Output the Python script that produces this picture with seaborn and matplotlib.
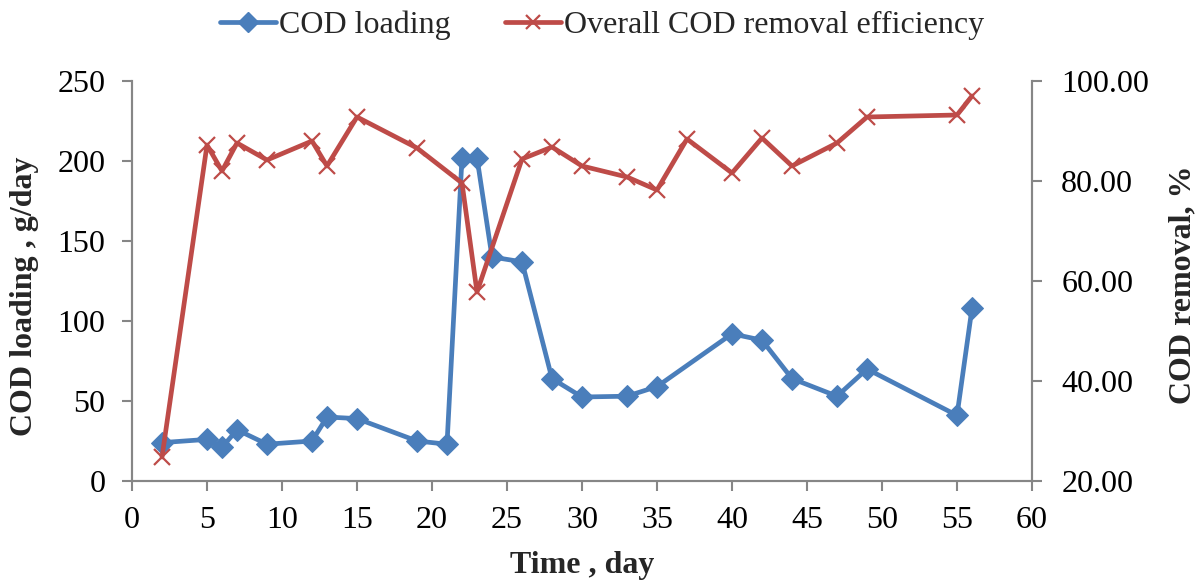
import matplotlib
matplotlib.use("Agg")
import matplotlib.pyplot as plt
from matplotlib.lines import Line2D
from matplotlib.ticker import FormatStrFormatter
import seaborn as sns
import pandas as pd

# COD loading (g/day) by day of operation
load_days = [2, 5, 6, 7, 9, 12, 13, 15, 19, 21, 22, 23, 24, 26, 28, 30, 33, 35, 40, 42, 44, 47, 49, 55, 56]
cod_loading = [24, 26, 21, 32, 23, 25, 40, 39, 25, 23, 202, 202, 140, 137, 64, 52.5, 53, 59, 92, 88, 64, 53, 70, 41, 108]

# Overall COD removal efficiency (%) by day of operation
eff_days = [2, 5, 6, 7, 9, 12, 13, 15, 19, 22, 23, 26, 28, 30, 33, 35, 37, 40, 42, 44, 47, 49, 55, 56]
cod_removal = [24.8, 87.2, 82.0, 87.6, 84.2, 88.0, 83.0, 92.8, 86.6, 79.6, 57.8, 84.4, 86.8, 83.0,
               80.8, 78.2, 88.4, 81.6, 88.6, 83.0, 87.6, 92.8, 93.2, 97.0]

load_df = pd.DataFrame({"day": load_days, "loading": cod_loading})
eff_df = pd.DataFrame({"day": eff_days, "removal": cod_removal})

sns.set_style("white")
plt.rcParams["font.family"] = ["Liberation Serif", "DejaVu Serif"]

BLUE = "#4A7EBB"
RED = "#BE4B48"
AXIS_GREY = "#868686"
FS = 23

fig = plt.figure(figsize=(11.98, 5.83), dpi=100)
ax = fig.add_axes([132 / 1198, 1 - 481 / 583, 900 / 1198, 400 / 583])
ax2 = ax.twinx()

sns.lineplot(data=load_df, x="day", y="loading", ax=ax, color=BLUE, lw=3.4,
             marker="D", markersize=11, markeredgecolor=BLUE, markerfacecolor=BLUE,
             legend=False, zorder=3)
sns.lineplot(data=eff_df, x="day", y="removal", ax=ax2, color=RED, lw=3.4,
             marker="x", markersize=11, markeredgewidth=1.6, markeredgecolor=RED,
             legend=False, zorder=3)

ax.set_xlim(0, 60)
ax.set_ylim(0, 250)
ax2.set_ylim(20, 100)
ax.set_xticks(range(0, 61, 5))
ax.set_yticks(range(0, 251, 50))
ax2.set_yticks(range(20, 101, 20))
ax2.yaxis.set_major_formatter(FormatStrFormatter("%.2f"))

for a in (ax, ax2):
    for side, sp in a.spines.items():
        sp.set_color(AXIS_GREY)
        sp.set_linewidth(1.5)
    a.spines["top"].set_visible(False)
    a.tick_params(axis="both", which="major", direction="out", length=7, width=1.5,
                  color=AXIS_GREY, labelsize=FS, labelcolor="black")
ax.tick_params(axis="y", left=True, right=False, pad=12)
ax.tick_params(axis="x", bottom=True, pad=11)
ax2.tick_params(axis="y", right=True, left=False, pad=14)

ax.set_xlabel("Time , day", fontsize=FS, fontweight="bold")
ax.set_ylabel("COD loading , g/day", fontsize=FS, fontweight="bold")
ax2.set_ylabel("COD removal, %", fontsize=FS, fontweight="bold")
ax.xaxis.set_label_coords(0.5, (481 - 565) / 400)
ax.xaxis.label.set_va("center")
ax.yaxis.set_label_coords((25 - 132) / 900, 0.4625)
ax.yaxis.label.set_va("center")
ax2.yaxis.set_label_coords((1183 - 132) / 900, 0.49)
ax2.yaxis.label.set_va("center")

handles = [
    Line2D([], [], color=BLUE, lw=3.4, marker="D", markersize=10),
    Line2D([], [], color=RED, lw=3.4, marker="x", markersize=10, markeredgewidth=1.6),
]
fig.legend(handles, ["COD loading", "Overall COD removal efficiency"],
           loc="center", bbox_to_anchor=(602 / 1198, 1 - 25 / 583), ncol=2, frameon=False,
           fontsize=FS, handlelength=1.75, handletextpad=0.1, columnspacing=1.7,
           borderpad=0, borderaxespad=0)

fig.savefig("out.png", dpi=100)
